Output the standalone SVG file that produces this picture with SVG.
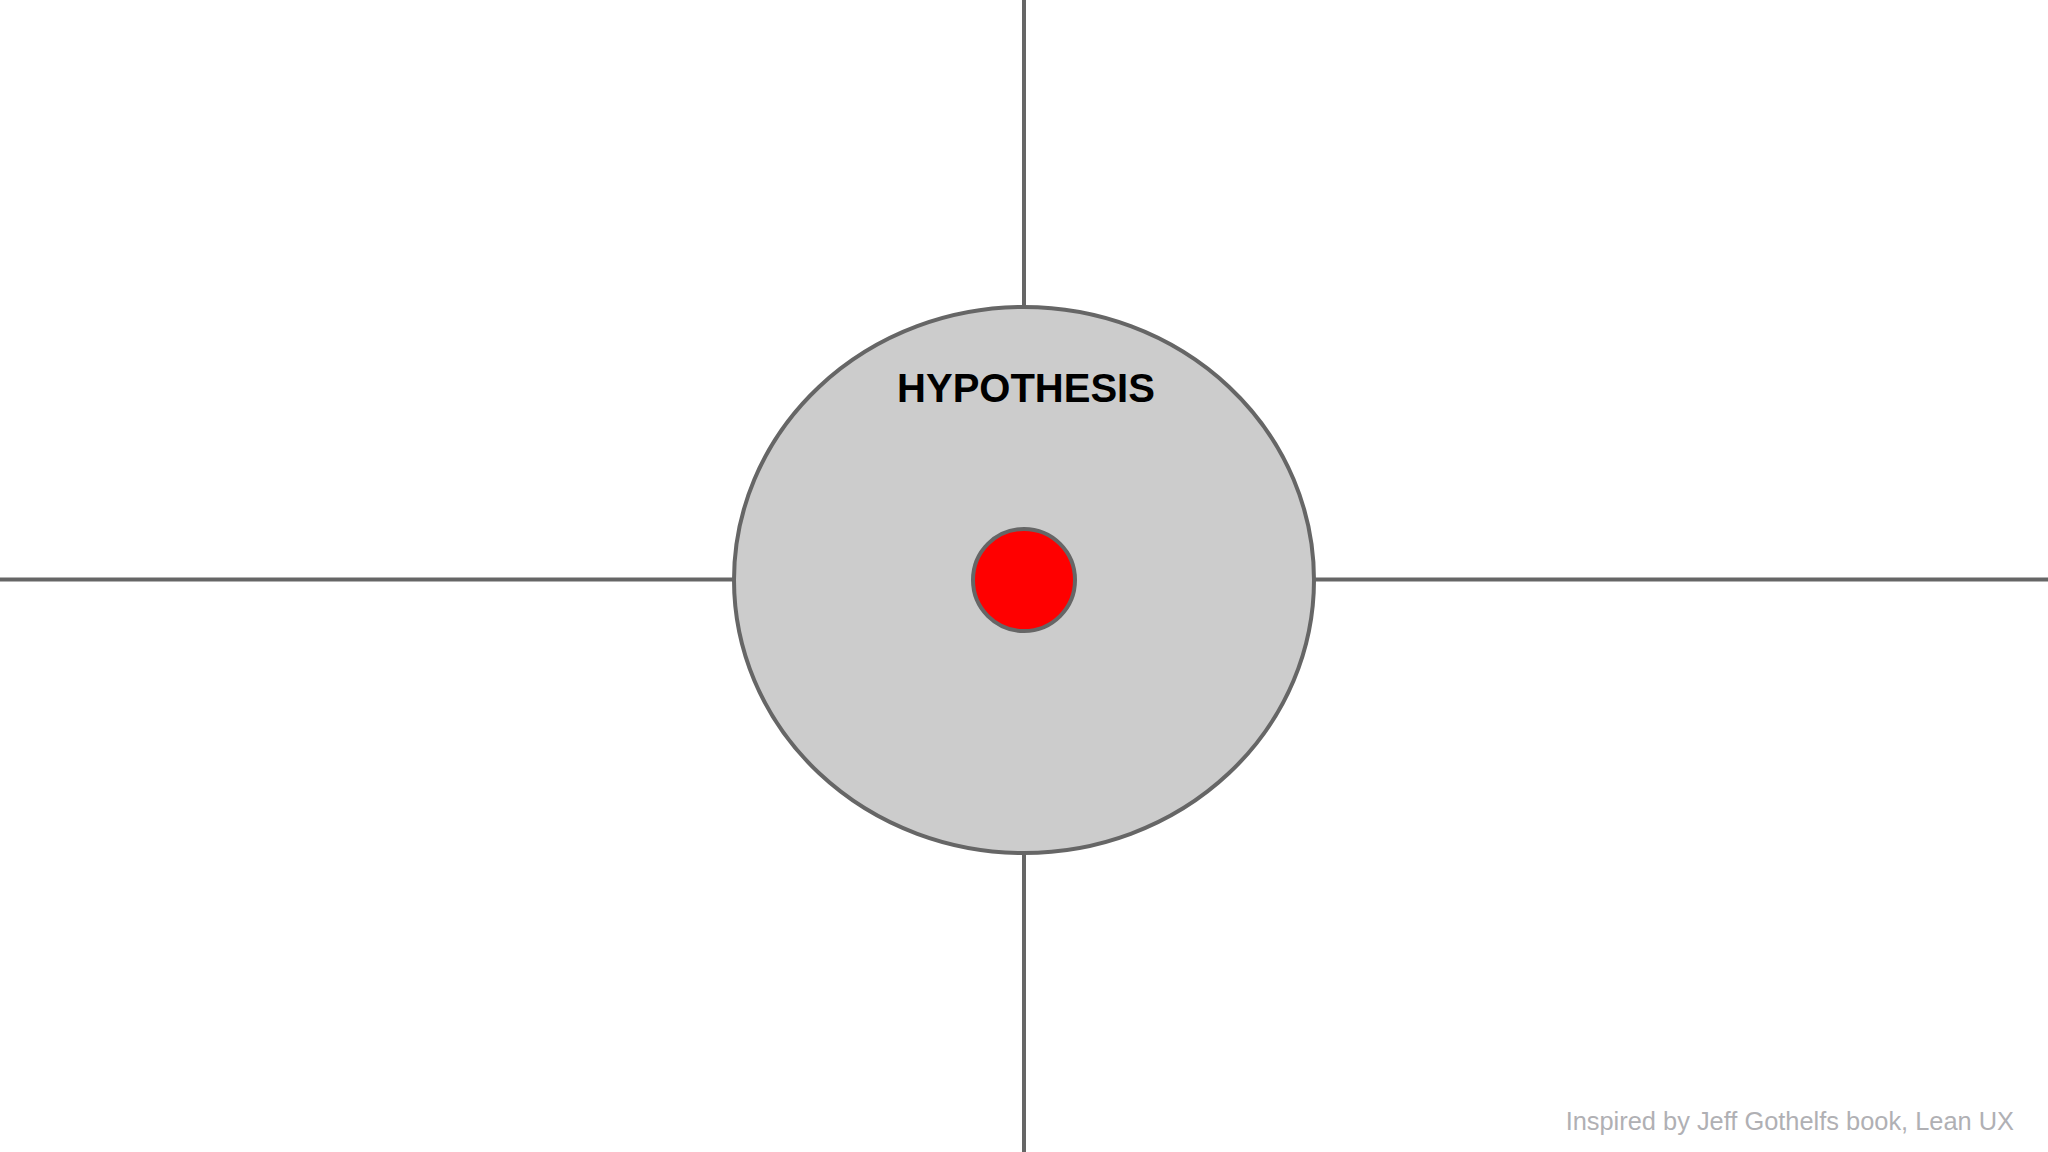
<svg xmlns="http://www.w3.org/2000/svg" width="2048" height="1152" viewBox="0 0 2048 1152">
<style>
.ln{stroke:#666666;stroke-width:4;fill:none}
.bd{stroke:#666666;stroke-width:4}
</style>
<rect width="2048" height="1152" fill="#ffffff"/>
<g id="connectors">
<line class="ln" x1="1024" y1="0" x2="1024" y2="307"/>
<line class="ln" x1="1024" y1="853" x2="1024" y2="1152"/>
<line class="ln" x1="0" y1="579.5" x2="734" y2="579.5"/>
<line class="ln" x1="1314" y1="579.5" x2="2048" y2="579.5"/>
</g>
<g id="hypothesis">
<ellipse class="bd" cx="1024" cy="580" rx="290" ry="273" fill="#cccccc"/>
<text x="1026" y="402" text-anchor="middle" font-family="'Liberation Sans', Arial, sans-serif" font-weight="bold" font-size="40" fill="#000000">HYPOTHESIS</text>
</g>
<g id="target">
<circle class="bd" cx="1024" cy="580" r="51" fill="#ff0000"/>
</g>
<text x="2014" y="1130" text-anchor="end" font-family="'Liberation Sans', Arial, sans-serif" font-size="25.4" fill="#b0b0b4">Inspired by Jeff Gothelfs book, Lean UX</text>
</svg>
